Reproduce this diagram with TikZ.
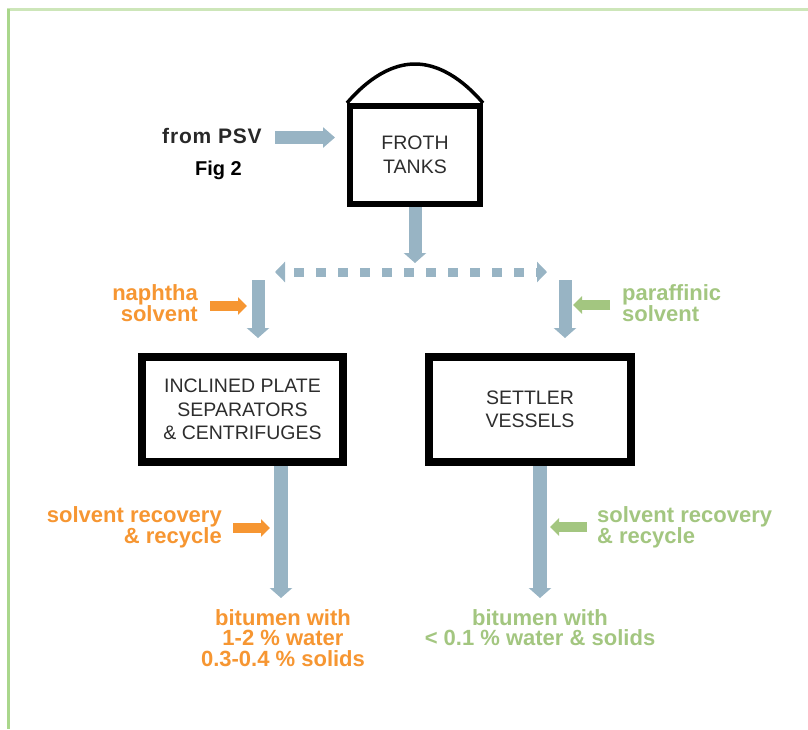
\documentclass[tikz,border=0pt]{standalone}
\usepackage{fontspec}
\setmainfont{Liberation Sans}
\newfontfamily\psvfont[LetterSpace=4]{Liberation Sans}
\usetikzlibrary{arrows.meta}
\definecolor{flow}{RGB}{152,180,196}
\definecolor{orng}{RGB}{246,150,50}
\definecolor{grn}{RGB}{163,198,128}
\definecolor{boxtext}{RGB}{45,45,45}
\definecolor{frametop}{RGB}{205,230,185}
\definecolor{frameleft}{RGB}{170,215,140}
\begin{document}
\begin{tikzpicture}[x=1pt,y=-1pt,
  unit/.style={draw=black, line width=6pt, minimum width=130pt, minimum height=98pt,
    inner sep=0pt, align=center, text=boxtext, font=\fontsize{19.5}{23.5}\selectfont},
  flowarrow/.style={draw=flow, line width=13pt, -{Triangle[width=22pt,length=10pt]}},
  dashflow/.style={draw=flow, line width=9pt, dash pattern=on 10pt off 12pt, dash phase=12pt,
    {Triangle[width=20pt,length=10pt]}-{Triangle[width=20pt,length=10pt]}},
  feedarrow/.style={line width=10pt, -{Triangle[width=17pt,length=9pt]}},
  lbl/.style={inner sep=0pt, font=\fontsize{22}{20.5}\selectfont\bfseries}
]
\useasboundingbox (0,0) rectangle (808,729);
% frame
\draw[frametop, line width=3pt] (7,9) -- (808,9);
\draw[frameleft, line width=3pt] (8.5,9) -- (8.5,729);

% units
\node[unit] (froth) at (415,155) {FROTH\\TANKS};
\draw[line width=3.5pt] (froth.north west) parabola bend (415,64) (froth.north east);
\node[unit, line width=8pt, minimum width=201pt, minimum height=105pt] (ips) at (242.5,409.5)
  {INCLINED PLATE\\SEPARATORS\\\& CENTRIFUGES};
\node[unit, line width=8pt, minimum width=202pt, minimum height=105pt] (settler) at (530,409.5)
  {SETTLER\\VESSELS};

% texts
\node[inner sep=0pt, anchor=base west, text={rgb,255:red,40;green,40;blue,40}, font=\fontsize{21}{22}\psvfont\bfseries] (psv) at (162,143) {from PSV};
\node[inner sep=0pt, anchor=base west, font=\fontsize{20}{22}\selectfont\bfseries] (fig) at (195,175) {Fig 2};
\node[lbl, text=orng, align=right, anchor=north east] (naphtha) at (198,284) {naphtha\\solvent};
\node[lbl, text=grn, align=left, anchor=north west] (paraffinic) at (622,284) {paraffinic\\solvent};
\node[lbl, text=orng, align=right, anchor=north east] (recL) at (222,506) {solvent recovery\\\& recycle};
\node[lbl, text=grn, align=left, anchor=north west] (recR) at (597,506) {solvent recovery\\\& recycle};
\node[lbl, text=orng, align=center, anchor=north] (bitL) at (283,609) {bitumen with\\1-2 \% water\\0.3-0.4 \% solids};
\node[lbl, text=grn, align=center, anchor=north] (bitR) at (540,609) {bitumen with\\< 0.1 \% water \& solids};

% coordinates
\coordinate (psvS) at (275,137.5);
\coordinate (psvE) at (335,137.5);
\coordinate (frothE) at (415,263);
\coordinate (splitL) at (275,272);
\coordinate (splitR) at (547,272);
\coordinate (leftS) at (258,280);
\coordinate (leftE) at (258,338);
\coordinate (rightS) at (565,280);
\coordinate (rightE) at (565,338);
\coordinate (ipsE) at (281,598);
\coordinate (setE) at (540,598);
\coordinate (naphS) at (210,306);
\coordinate (naphE) at (247,306);
\coordinate (parS) at (610,305);
\coordinate (parE) at (573,305);
\coordinate (recLS) at (233,528);
\coordinate (recLE) at (270,528);
\coordinate (recRS) at (587,527);
\coordinate (recRE) at (550,527);

% flows
\draw[draw=flow, line width=13pt, -{Triangle[width=20pt,length=12pt]}] (psvS) -- (psvE);
\draw[flowarrow] (froth.south) -- (frothE);
\draw[dashflow] (splitL) -- (splitR);
\draw[flowarrow] (leftS) -- (leftE);
\draw[flowarrow] (rightS) -- (rightE);
\draw[flowarrow, line width=14pt] (ips.south -| ipsE) -- (ipsE);
\draw[flowarrow, line width=14pt] (settler.south -| setE) -- (setE);
\draw[feedarrow, draw=orng] (naphS) -- (naphE);
\draw[feedarrow, draw=grn] (parS) -- (parE);
\draw[feedarrow, draw=orng] (recLS) -- (recLE);
\draw[feedarrow, draw=grn] (recRS) -- (recRE);
\end{tikzpicture}
\end{document}
